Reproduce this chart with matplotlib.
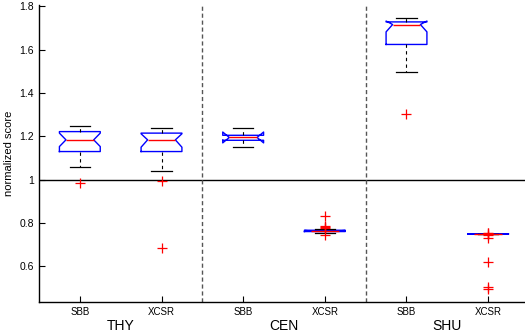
"""Notched box plots of normalized score per dataset (MATLAB-style)."""

import matplotlib

matplotlib.use("Agg")
import matplotlib.pyplot as plt  # noqa: E402

plt.rcParams["font.family"] = ["Liberation Sans", "DejaVu Sans"]

# --- data ---
methods = ["SBB", "XCSR", "SBB", "XCSR", "SBB", "XCSR"]
groups = ["THY", "CEN", "SHU"]

q1 = [1.130, 1.130, 1.182, 0.761, 1.624, 0.749]
med = [1.184, 1.184, 1.195, 0.764, 1.716, 0.750]
q3 = [1.222, 1.215, 1.205, 0.767, 1.728, 0.751]
ci_lo = [1.153, 1.150, 1.170, 0.762, 1.682, 0.749]
ci_hi = [1.215, 1.212, 1.220, 0.766, 1.732, 0.751]
wlo = [1.057, 1.038, 1.149, 0.752, 1.498, 0.749]
whi = [1.248, 1.238, 1.240, 0.775, 1.748, 0.751]
fliers = [
    [0.985],
    [0.995, 0.686],
    [],
    [0.834, 0.785, 0.780, 0.776, 0.745],
    [1.303],
    [0.756, 0.752, 0.745, 0.732, 0.622, 0.503, 0.498],
]

stats = []
for i in range(len(methods)):
    stats.append(
        {
            "med": med[i],
            "q1": q1[i],
            "q3": q3[i],
            "cilo": ci_lo[i],
            "cihi": ci_hi[i],
            "whislo": wlo[i],
            "whishi": whi[i],
            "fliers": fliers[i],
        }
    )

fig = plt.figure(figsize=(5.25, 3.36), dpi=100)
ax = fig.add_axes([39 / 525, 34 / 336, 490 / 525, 297 / 336])

positions = list(range(1, 7))
width = 0.5
art = ax.bxp(
    stats,
    positions=positions,
    widths=width,
    shownotches=True,
    boxprops=dict(color="blue", linewidth=1.0),
    medianprops=dict(color="red", linewidth=1.0),
    whiskerprops=dict(color="black", linestyle=(0, (3, 3)), linewidth=0.8),
    capprops=dict(color="black", linewidth=0.9),
    capwidths=0.25,
    flierprops=dict(marker="+", markeredgecolor="red", markersize=7, markeredgewidth=0.9, linestyle="none"),
)

# shallower notches, like MATLAB's
for box, med_line, pos in zip(art["boxes"], art["medians"], positions):
    xs = list(box.get_xdata())
    xs[3] = pos + 0.17
    xs[8] = pos - 0.17
    box.set_xdata(xs)
    med_line.set_xdata([pos - 0.17, pos + 0.17])

ax.axhline(1.0, color="black", linewidth=1.0, zorder=0)
for x in (2.5, 4.5):
    ax.axvline(x, color="#555555", linestyle=(0, (3, 2)), linewidth=1.0, zorder=0)

ax.set_xlim(0.5, 6.5)
ax.set_ylim(0.436, 1.806)
ax.set_xticks(positions)
ax.set_xticklabels(methods, fontsize=7)
ax.set_yticks([0.6, 0.8, 1.0, 1.2, 1.4, 1.6, 1.8])
ax.set_yticklabels(["0.6", "0.8", "1", "1.2", "1.4", "1.6", "1.8"], fontsize=7.5)
ax.tick_params(direction="in", length=4, width=0.8)
ax.set_ylabel("normalized score", fontsize=8, labelpad=4)

for s in ("top", "right"):
    ax.spines[s].set_visible(False)
for s in ("left", "bottom"):
    ax.spines[s].set_linewidth(1.0)

for k, g in enumerate(groups):
    ax.text(1.5 + 2 * k, -0.082, g, transform=ax.get_xaxis_transform(),
            ha="center", va="center", fontsize=10)

fig.savefig("out.png", dpi=100)
